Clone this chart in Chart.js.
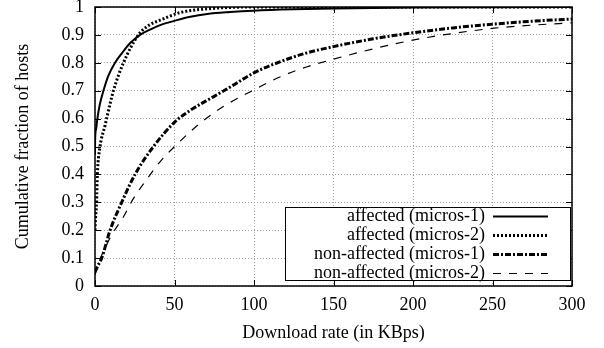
<!DOCTYPE html>
<html>
<head>
<meta charset="utf-8">
<script src="https://cdn.jsdelivr.net/npm/chart.js@4"></script>
<style>
  html, body { margin: 0; padding: 0; background: #fff; }
  #wrap { width: 604px; height: 348px; }
</style>
</head>
<body>
<div id="wrap"><canvas id="myChart" width="604" height="348"></canvas></div>
<script>
// values
const seriesNames = ['affected (micros-1)', 'affected (micros-2)', 'non-affected (micros-1)', 'non-affected (micros-2)'];

const aff1X = [0, 0.05, 0.6, 1.5, 3, 5.3, 8.5, 12.6, 17, 22, 28.4, 35, 41, 51.6, 60, 70.6, 85, 99.6, 125, 150, 200, 250, 300];
const aff1Y = [0.47, 0.52, 0.56, 0.6, 0.65, 0.7, 0.755, 0.8, 0.835, 0.87, 0.9, 0.92, 0.935, 0.953, 0.965, 0.975, 0.982, 0.987, 0.992, 0.995, 0.998, 0.999, 1.0];

const aff2X = [0, 0.3, 1, 1.5, 3.2, 6.3, 7.3, 11.6, 17.9, 27.3, 34, 41, 53.6, 74.4, 100, 300];
const aff2Y = [0.2, 0.24, 0.3, 0.4, 0.5, 0.575, 0.6, 0.7, 0.8, 0.9, 0.935, 0.953, 0.98, 0.995, 1.0, 1.0];

const non1X = [0, 2, 4.2, 9.5, 16.8, 25.2, 36.8, 50.4, 60, 74.4, 87, 99.6, 116.6, 133, 150, 175, 200.5, 225, 251, 275, 300];
const non1Y = [0.05, 0.075, 0.1, 0.2, 0.3, 0.4, 0.5, 0.589, 0.63, 0.678, 0.72, 0.763, 0.804, 0.835, 0.858, 0.886, 0.908, 0.925, 0.939, 0.949, 0.957];

const non2X = [0, 2, 5.3, 10.5, 17.9, 24.2, 31.5, 41, 51, 66, 80.7, 99.6, 116.6, 133, 150, 175, 200.5, 225, 251, 275, 300];
const non2Y = [0.04, 0.08, 0.123, 0.183, 0.248, 0.314, 0.374, 0.446, 0.505, 0.583, 0.643, 0.702, 0.75, 0.785, 0.813, 0.85, 0.882, 0.905, 0.924, 0.935, 0.943];

const xTicks = [0, 50, 100, 150, 200, 250, 300];
const yTicks = [0, 0.1, 0.2, 0.3, 0.4, 0.5, 0.6, 0.7, 0.8, 0.9, 1];

const FONT = "'Liberation Serif', 'DejaVu Serif', serif";

function pts(xs, ys) {
  return xs.map((x, i) => ({ x: x, y: ys[i] }));
}

const styles = [
  { borderWidth: 2, borderDash: [] },
  { borderWidth: 3, borderDash: [2, 2] },
  { borderWidth: 3, borderDash: [6, 2, 2, 2] },
  { borderWidth: 1.2, borderDash: [8, 8] }
];

const allData = [pts(aff1X, aff1Y), pts(aff2X, aff2Y), pts(non1X, non1Y), pts(non2X, non2Y)];

const frame = {
  id: 'frame',
  afterDatasetsDraw(chart) {
    const { ctx, chartArea: a, scales } = chart;
    ctx.save();
    // inward tick marks on all four sides
    ctx.strokeStyle = '#000';
    ctx.lineWidth = 1;
    ctx.setLineDash([]);
    ctx.beginPath();
    xTicks.forEach(v => {
      const px = Math.round(scales.x.getPixelForValue(v)) + 0.5;
      ctx.moveTo(px, a.bottom); ctx.lineTo(px, a.bottom - 6);
      ctx.moveTo(px, a.top); ctx.lineTo(px, a.top + 6);
    });
    yTicks.forEach(v => {
      const py = Math.round(scales.y.getPixelForValue(v)) + 0.5;
      ctx.moveTo(a.left, py); ctx.lineTo(a.left + 6, py);
      ctx.moveTo(a.right, py); ctx.lineTo(a.right - 6, py);
    });
    ctx.stroke();

    // legend box
    const bx = 285, by = 207, bw = 285, bh = 73;
    ctx.fillStyle = '#fff';
    ctx.fillRect(bx, by, bw, bh);
    ctx.lineWidth = 1;
    ctx.strokeRect(bx + 0.5, by + 0.5, bw, bh);
    ctx.font = '18px ' + FONT;
    ctx.textAlign = 'right';
    ctx.textBaseline = 'middle';
    ctx.fillStyle = '#000';
    seriesNames.forEach((name, i) => {
      const y = by + 9 + i * 19;
      ctx.fillText(name, 485, y);
      ctx.lineWidth = styles[i].borderWidth;
      ctx.setLineDash(styles[i].borderDash);
      ctx.beginPath();
      ctx.moveTo(493, y + 0.5);
      ctx.lineTo(548, y + 0.5);
      ctx.stroke();
    });
    ctx.setLineDash([]);

    // plot border
    ctx.lineWidth = 1.5;
    ctx.strokeRect(a.left, a.top, a.right - a.left, a.bottom - a.top);
    ctx.restore();
  }
};

new Chart(document.getElementById('myChart'), {
  type: 'line',
  data: {
    datasets: allData.map((d, i) => ({
      label: seriesNames[i],
      data: d,
      borderColor: '#000',
      backgroundColor: '#000',
      borderWidth: styles[i].borderWidth,
      borderDash: styles[i].borderDash,
      pointRadius: 0,
      cubicInterpolationMode: 'monotone',
      fill: false
    }))
  },
  options: {
    responsive: false,
    animation: false,
    layout: { padding: { top: 7, right: 32, left: 0, bottom: 0 } },
    plugins: { legend: { display: false }, tooltip: { enabled: false } },
    scales: {
      x: {
        type: 'linear',
        min: 0,
        max: 300,
        afterFit(s) { s.height = 62; s.paddingLeft = 0; s.paddingRight = 0; },
        afterBuildTicks(s) { s.ticks = xTicks.map(v => ({ value: v })); },
        grid: { color: '#a0a0a0', lineWidth: 1, drawTicks: false },
        border: { display: false, dash: [1, 2] },
        ticks: { color: '#000', padding: 8, font: { family: FONT, size: 18 }, maxRotation: 0 },
        title: { display: true, text: 'Download rate (in KBps)', color: '#000', font: { family: FONT, size: 18 }, padding: { top: 4 } }
      },
      y: {
        min: 0,
        max: 1,
        afterFit(s) { s.width = 95; s.paddingTop = 0; s.paddingBottom = 0; },
        afterBuildTicks(s) { s.ticks = yTicks.map(v => ({ value: v })); },
        grid: { color: '#a0a0a0', lineWidth: 1, drawTicks: false },
        border: { display: false, dash: [1, 2] },
        ticks: {
          color: '#000', padding: 11, font: { family: FONT, size: 18 },
          callback: v => (v === 0 || v === 1) ? String(v) : v.toFixed(1)
        },
        title: { display: true, text: 'Cumulative fraction of hosts', color: '#000', font: { family: FONT, size: 18 }, padding: { top: 12, bottom: 12 } }
      }
    }
  },
  plugins: [frame]
});
</script>
</body>
</html>
